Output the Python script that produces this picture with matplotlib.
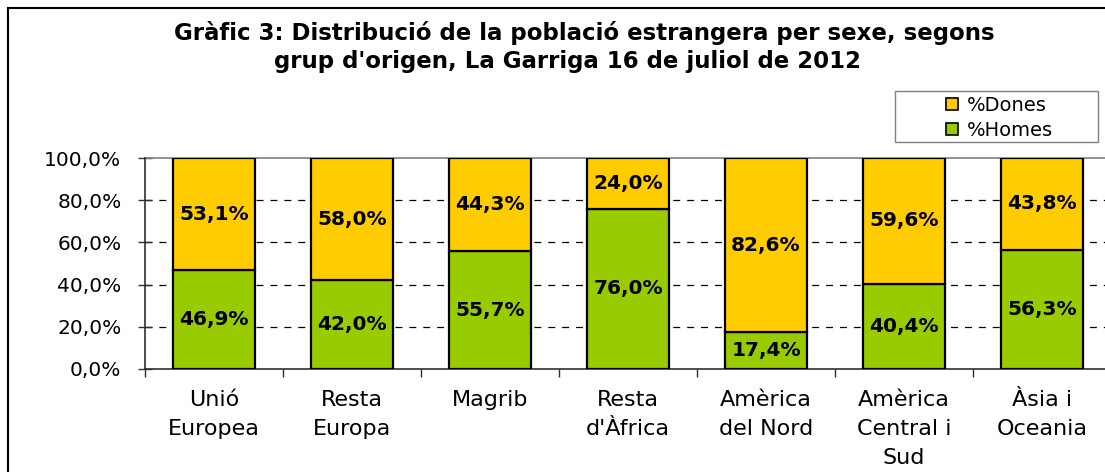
import matplotlib
matplotlib.use("Agg")
import matplotlib.pyplot as plt
from matplotlib.patches import Patch, Rectangle
from matplotlib.lines import Line2D
import numpy as np

categories = ["Unió\nEuropea", "Resta\nEuropa", "Magrib", "Resta\nd'Àfrica",
              "Amèrica\ndel Nord", "Amèrica\nCentral i\nSud", "Àsia i\nOceania"]
homes = [46.9, 42.0, 55.7, 76.0, 17.4, 40.4, 56.3]
dones = [53.1, 58.0, 44.3, 24.0, 82.6, 59.6, 43.8]
yticks = [0, 20, 40, 60, 80, 100]
title_lines = ["Gràfic 3: Distribució de la població estrangera per sexe, segons",
               "grup d'origen, La Garriga 16 de juliol de 2012"]

YELLOW = "#FFCC00"
GREEN = "#99CC00"

plt.rcParams['font.family'] = ['DejaVu Sans']
plt.rcParams['lines.scale_dashes'] = False

W, H = 1105, 472
fig = plt.figure(figsize=(W / 100, H / 100), dpi=100)
fig.patch.set_facecolor("white")

# outer chart border (extends past right/bottom edge)
fig.add_artist(Line2D([8 / W, 8 / W], [1 - 8 / H, -0.1], color="black", lw=1.5, transform=fig.transFigure))
fig.add_artist(Line2D([8 / W, 1.1], [1 - 8 / H, 1 - 8 / H], color="black", lw=1.5, transform=fig.transFigure))

x0, x1 = 145, 1111
ytop, ybot = 158, 369
ax = fig.add_axes([x0 / W, 1 - ybot / H, (x1 - x0) / W, (ybot - ytop) / H])
ax.set_facecolor("white")

n = len(categories)
x = np.arange(n)
bw = 0.59
ax.bar(x, homes, width=bw, color=GREEN, edgecolor="black", linewidth=1.6, zorder=3)
ax.bar(x, dones, bottom=homes, width=bw, color=YELLOW, edgecolor="black", linewidth=1.6, zorder=3)

for i in range(n):
    ax.text(x[i], homes[i] / 2, f"{homes[i]:.1f}%".replace(".", ","), ha="center", va="center",
            fontsize=14.5, fontweight="bold", zorder=4)
    ax.text(x[i], homes[i] + dones[i] / 2, f"{dones[i]:.1f}%".replace(".", ","), ha="center", va="center",
            fontsize=14.5, fontweight="bold", zorder=4)

ax.set_xlim(-0.5, n - 0.5)
ax.set_ylim(0, 100)

for yv in yticks[1:-1]:
    ax.axhline(yv, color="black", lw=0.9, dashes=(5, 5), zorder=1)

ax.set_yticks(yticks)
ax.set_yticklabels([f"{v:.1f}%".replace(".", ",") for v in yticks], fontsize=14.5)
ax.tick_params(axis="y", direction="inout", length=10, width=1, color="#303030", pad=12)

ax.set_xticks(x)
ax.set_xticklabels(categories, fontsize=16, linespacing=1.58)
ax.set_xticks(np.arange(-0.5, n, 1.0), minor=True)
ax.tick_params(axis="x", which="major", length=0, pad=15)
ax.tick_params(axis="x", which="minor", direction="out", length=6, width=1, color="#303030")

for s in ["left", "bottom"]:
    ax.spines[s].set_color("#303030")
    ax.spines[s].set_linewidth(1.2)
for s in ["top", "right"]:
    ax.spines[s].set_color("#808080")
    ax.spines[s].set_linewidth(1.2)
ax.spines["left"].set_zorder(5)

fig.text(584 / W, 1 - 40 / H, title_lines[0], ha="center", va="baseline", fontsize=16.5, fontweight="bold")
fig.text(568 / W, 1 - 68 / H, title_lines[1], ha="center", va="baseline", fontsize=16.5, fontweight="bold")

# legend frame drawn separately (wider than its content, as in the reference)
fig.add_artist(Rectangle((895 / W, 1 - 142 / H), (1098 - 895) / W, (142 - 91) / H,
                         transform=fig.transFigure, facecolor="white", edgecolor="#808080", lw=1.0))
handles = [Patch(facecolor=YELLOW, edgecolor="black", linewidth=1.2, label="%Dones"),
           Patch(facecolor=GREEN, edgecolor="black", linewidth=1.2, label="%Homes")]
leg = fig.legend(handles=handles, loc="center left", bbox_to_anchor=(946 / W, 1 - 118 / H),
                 fontsize=14, frameon=False, handlelength=0.6, handleheight=0.6,
                 handletextpad=0.45, borderpad=0, labelspacing=0.3, borderaxespad=0)

fig.savefig("out.png", dpi=100)
